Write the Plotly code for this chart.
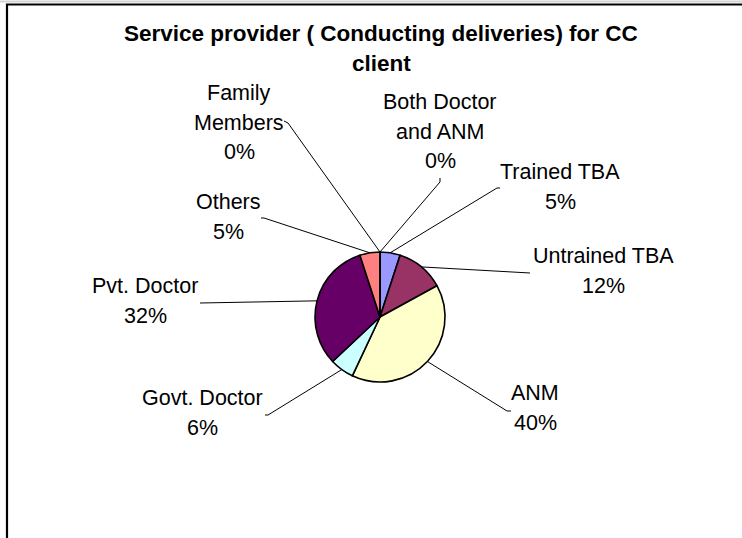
import math
import plotly.graph_objects as go

W, H = 742, 538

# ---- data ----
categories = ["Both Doctor and ANM", "Trained TBA", "Untrained TBA", "ANM",
              "Govt. Doctor", "Pvt. Doctor", "Others", "Family Members"]
shares = [0, 5, 12, 40, 6, 32, 5, 0]
title_lines = ["Service provider ( Conducting deliveries) for CC", "client"]

# ---- styling / layout ----
slice_colors = ["#CCCCFF", "#9999FF", "#993366", "#FFFFCC",
                "#CCFFFF", "#660066", "#FF8080", "#0066CC"]
wrapped_names = {"Both Doctor and ANM": ["Both Doctor", "and ANM"],
                 "Family Members": ["Family", "Members"]}
# centre of the first text line of each label (pixels from top-left)
label_xy = [(440, 102), (560, 172), (603, 256), (535, 393),
            (202, 398), (145, 286), (228, 202), (239, 93)]
# where each leader line leaves its label, plus a short tick end
leader_xy = [(440, 182), (497, 188), (530, 273), (507, 411),
             (268, 415), (200, 303), (264, 218), (288, 123)]
tick_xy = [(440, 178), (500, 188), None, (511, 411),
           (265, 415), None, (261, 218), (284, 121)]

CX, CY, R = 380, 317, 65          # pie centre and radius in pixels
LINE_H = 29.5
FONT = "Liberation Sans, Arial, sans-serif"
LABEL_SIZE = 21.5
TITLE_SIZE = 22.5


def px(x, y):
    return x / W, 1 - y / H


fig = go.Figure(go.Pie(
    labels=categories,
    values=shares,
    sort=False,
    direction="clockwise",
    rotation=0,
    textinfo="none",
    hoverinfo="label+percent",
    marker=dict(colors=slice_colors, line=dict(color="black", width=1.6)),
    domain=dict(x=[(CX - R) / W, (CX + R) / W],
                y=[1 - (CY + R) / H, 1 - (CY - R) / H]),
    showlegend=False,
))

annotations = []
shapes = []

# title
for i, line in enumerate(title_lines):
    x, y = px(381, 34 + i * LINE_H)
    annotations.append(dict(x=x, y=y, xref="paper", yref="paper", text=f"<b>{line}</b>",
                            showarrow=False, xanchor="center", yanchor="middle",
                            font=dict(family=FONT, size=TITLE_SIZE, color="black")))

total = sum(shares)
cum = 0
for i, (name, v) in enumerate(zip(categories, shares)):
    mid = (cum + v / 2) / total * 2 * math.pi
    cum += v
    edge = (CX + R * math.sin(mid), CY - R * math.cos(mid))

    lines = wrapped_names.get(name, [name]) + [f"{round(v / total * 100)}%"]
    lx, ly = label_xy[i]
    for j, t in enumerate(lines):
        x, y = px(lx, ly + j * LINE_H)
        annotations.append(dict(x=x, y=y, xref="paper", yref="paper", text=t,
                                showarrow=False, xanchor="center", yanchor="middle",
                                font=dict(family=FONT, size=LABEL_SIZE, color="black")))

    pts = ([tick_xy[i]] if tick_xy[i] else []) + [leader_xy[i], edge]
    path = "M " + " L ".join("{:.5f},{:.5f}".format(*px(*p)) for p in pts)
    shapes.append(dict(type="path", path=path, xref="paper", yref="paper",
                       line=dict(color="black", width=1)))

# chart-area frame (left and top edges) and the sheet edge above it
shapes.append(dict(type="line", xref="paper", yref="paper",
                   x0=0, x1=1, y0=1 - 1.5 / H, y1=1 - 1.5 / H,
                   line=dict(color="#d4d4d4", width=2)))
shapes.append(dict(type="path", xref="paper", yref="paper",
                   path="M {:.5f},0 L {:.5f},{:.5f} L 1,{:.5f}".format(
                       7 / W, 7 / W, 1 - 4.5 / H, 1 - 4.5 / H),
                   line=dict(color="black", width=2.2)))

fig.update_layout(
    width=W, height=H,
    margin=dict(l=0, r=0, t=0, b=0),
    paper_bgcolor="white",
    plot_bgcolor="white",
    annotations=annotations,
    shapes=shapes,
)

fig.write_html("out.html")
